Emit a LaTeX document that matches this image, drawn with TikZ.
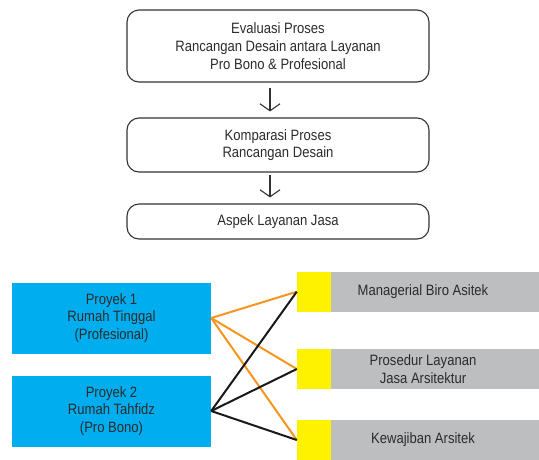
\documentclass[tikz,border=0pt]{standalone}
\usepackage{fontspec}
\setmainfont{Liberation Sans}[FakeStretch=0.87]
\usetikzlibrary{arrows.meta}
\definecolor{cblue}{HTML}{00AEEF}
\definecolor{cyellow}{HTML}{FFF200}
\definecolor{cgray}{HTML}{BCBEC0}
\definecolor{corange}{HTML}{F7941D}
\definecolor{ctext}{HTML}{2B2B2B}
\tikzset{
  txt/.style={font=\fontsize{15}{17.7}\selectfont, text=ctext, align=center},
  flowbox/.style={txt, draw=black!80, line width=1.1pt, rounded corners=12pt,
    minimum width=302pt, inner sep=0pt},
  flowarrow/.style={draw=black!80, line width=1.1pt,
    -{Straight Barb[length=7pt,width=20pt,line width=1.1pt]}},
  projbox/.style={txt, fill=cblue, minimum width=199pt, minimum height=71pt, inner sep=0pt},
  graybox/.style={txt, fill=cgray, minimum width=232pt, minimum height=40pt, inner sep=0pt},
  yelbox/.style={fill=cyellow, minimum width=34pt, minimum height=40pt, inner sep=0pt},
  orangeline/.style={draw=corange, line width=2pt},
  blackline/.style={draw=black!90, line width=2pt},
}
\begin{document}
\begin{tikzpicture}[x=1pt,y=-1pt]
\useasboundingbox (0,0) rectangle (539,459);
% flow
\node[flowbox, minimum height=72pt] (b1) at (278,46) {Evaluasi Proses\\Rancangan Desain antara Layanan\\Pro Bono \& Profesional};
\node[flowbox, minimum height=54pt] (b2) at (278,145) {Komparasi Proses\\Rancangan Desain};
\node[flowbox, minimum height=35pt] (b3) at (278,221.5) {Aspek Layanan Jasa};
\draw[flowarrow, shorten <=5pt, shorten >=6pt] ([xshift=-8pt]b1.south) -- ([xshift=-8pt]b2.north);
\draw[flowarrow, shorten <=2.5pt, shorten >=6pt] ([xshift=-8pt]b2.south) -- ([xshift=-8pt]b3.north);
% projects
\node[projbox] (p1) at (111.5,318) {Proyek 1\\Rumah Tinggal\\(Profesional)};
\node[projbox] (p2) at (111.5,411) {Proyek 2\\Rumah Tahfidz\\(Pro Bono)};
% aspects
\node[graybox] (g1) at (423,291.7) {Managerial Biro Asitek};
\node[graybox] (g2) at (423,369) {Prosedur Layanan\\Jasa Arsitektur};
\node[graybox] (g3) at (423,440) {Kewajiban Arsitek};
\node[yelbox] (y1) at (314,291.7) {};
\node[yelbox] (y2) at (314,369) {};
\node[yelbox] (y3) at (314,440) {};
% connectors
\draw[orangeline] (p1.east) -- (y1.west);
\draw[orangeline] (p1.east) -- (y2.west);
\draw[orangeline] (p1.east) -- (y3.west);
\draw[blackline] (p2.east) -- (y1.west);
\draw[blackline] (p2.east) -- (y2.west);
\draw[blackline] (p2.east) -- (y3.west);
\end{tikzpicture}
\end{document}
